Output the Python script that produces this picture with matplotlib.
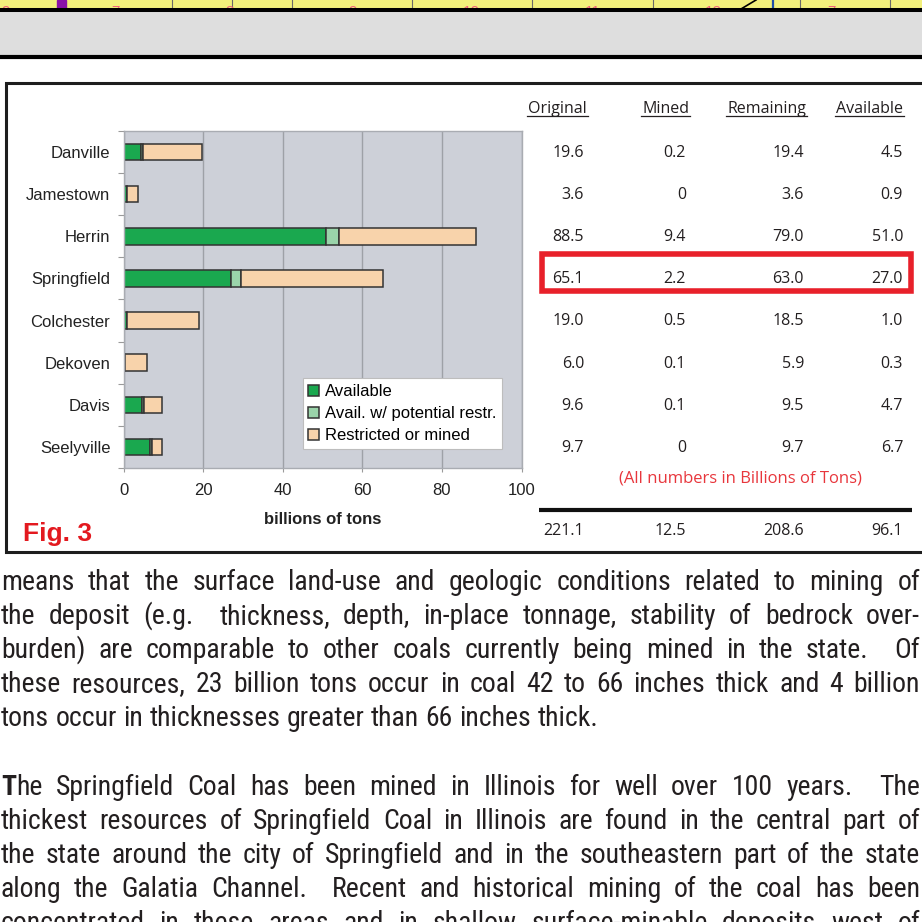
import matplotlib
matplotlib.use("Agg")
import matplotlib.pyplot as plt
import matplotlib.transforms as mtransforms
from matplotlib import font_manager as fm
from matplotlib.font_manager import FontProperties
from matplotlib.patches import Rectangle
import numpy as np

# ---- data (billions of tons) ----
seams = ["Danville", "Jamestown", "Herrin", "Springfield",
         "Colchester", "Dekoven", "Davis", "Seelyville"]
original = [19.6, 3.6, 88.5, 65.1, 19.0, 6.0, 9.6, 9.7]
mined = [0.2, 0, 9.4, 2.2, 0.5, 0.1, 0.1, 0]
remaining = [19.4, 3.6, 79.0, 63.0, 18.5, 5.9, 9.5, 9.7]
available = [4.5, 0.9, 51.0, 27.0, 1.0, 0.3, 4.7, 6.7]
# available but with potential restrictions
potential = [0.3, 0.0, 3.2, 2.6, 0.0, 0.0, 0.5, 0.4]
totals = [221.1, 12.5, 208.6, 96.1]
columns = ["Original", "Mined", "Remaining", "Available"]
series_names = ["Available", "Avail. w/ potential restr.", "Restricted or mined"]
x_ticks = [0, 20, 40, 60, 80, 100]

paragraph_1 = [
    "means that the surface land-use and geologic conditions related to mining of",
    "the deposit (e.g. thickness, depth, in-place tonnage, stability of bedrock over-",
    "burden) are comparable to other coals currently being mined in the state.  Of",
    "these resources, 23 billion tons occur in coal 42 to 66 inches thick and 4 billion",
    "tons occur in thicknesses greater than 66 inches thick.",
]
paragraph_2 = [
    "The Springfield Coal has been mined in Illinois for well over 100 years.  The",
    "thickest resources of Springfield Coal in Illinois are found in the central part of",
    "the state around the city of Springfield and in the southeastern part of the state",
    "along the Galatia Channel.  Recent and historical mining of the coal has been",
    "concentrated in these areas and in shallow surface-minable deposits west of",
]
map_labels = ["9", "7", "8", "9", "10", "11", "12", "7"]

GREEN = "#1aa84f"
LIGHT = "#9ad4aa"
TAN = "#f8d3ab"
EDGE = "#333333"
PLOT_BG = "#cdd0d8"
INK = "#231f20"
RED = "#e8202a"

plt.rcParams["font.family"] = ["Liberation Sans", "DejaVu Sans"]

fig = plt.figure(figsize=(9.22, 9.22), dpi=100)
renderer = fig.canvas.get_renderer()

# page overlay in pixel coordinates (y downwards)
ov = fig.add_axes([0, 0, 1, 1], zorder=0)
ov.set_xlim(0, 922)
ov.set_ylim(922, 0)
ov.axis("off")

# ---- strip of map at the top ----
ov.add_patch(Rectangle((0, 0), 922, 9, color="#f2f07c", zorder=1))
ov.add_patch(Rectangle((57, 0), 9, 9, color="#8a12a8", zorder=2))
for x in [172, 232, 292, 412, 532, 653, 800, 890]:
    ov.plot([x, x], [0, 9], color="#6a6a6a", lw=0.8, zorder=2)
ov.plot([773, 773], [0, 9], color="#1f4fa8", lw=1.6, zorder=2)
ov.plot([741, 756], [9, 0], color="black", lw=1.2, zorder=2)
for x, s in zip([5, 115, 230, 352, 471, 593, 713, 831], map_labels):
    ov.text(x, 4.5, s, color="#f0607a", fontsize=11, ha="center", va="top", zorder=2)
ov.add_patch(Rectangle((0, 10), 922, 47, color="#dedede", zorder=3))
ov.plot([0, 922], [10.3, 10.3], color="black", lw=2.9, zorder=4)
ov.plot([0, 922], [57, 57], color="black", lw=3, zorder=4)

# ---- figure frame ----
ov.plot([935, 6, 6, 935], [83, 83, 551.5, 551.5], color="#1e1e1e", lw=2.2,
        solid_joinstyle="miter")

# ---- bar chart ----
ax = fig.add_axes([123.5 / 922, (922 - 468) / 922, 398 / 922, 337 / 922], zorder=2)
ax.set_facecolor(PLOT_BG)
y = np.arange(len(seams))
avail = np.array(available)
pot = np.array(potential)
restricted = np.array(original) - avail - pot
bar_kw = dict(height=0.39, edgecolor=EDGE, linewidth=1.1)
ax.barh(y, avail, color=GREEN, label=series_names[0], **bar_kw)
ax.barh(y, pot, left=avail, color=LIGHT, label=series_names[1], **bar_kw)
ax.barh(y, restricted, left=avail + pot, color=TAN, label=series_names[2], **bar_kw)

ax.set_xlim(0, 100)
ax.set_ylim(len(seams) - 0.5, -0.5)
ax.set_xticks(x_ticks)
ax.set_yticks(y)
ax.set_yticklabels(seams)
ax.set_yticks(np.arange(-0.5, len(seams), 1), minor=True)
ax.tick_params(axis="y", which="major", length=0, pad=9.5, labelsize=12, labelcolor="#222222")
ax.tick_params(axis="y", which="minor", length=4, color="#9a9a9a", width=0.8)
ax.tick_params(axis="x", length=3, color="#9a9a9a", width=0.8, pad=8, labelsize=12,
               labelcolor="#222222")
ax.grid(axis="x", color="#9ea1a7", lw=1)
ax.set_axisbelow(True)
for side in ["left", "bottom", "right", "top"]:
    ax.spines[side].set_color("#a9acb2")
    ax.spines[side].set_linewidth(1)
ax.set_xlabel("billions of tons", fontsize=12, fontweight="bold", color="#222222",
              labelpad=10)

leg = ax.legend(loc="lower left", bbox_to_anchor=(0.45, 0.056), fontsize=12,
                frameon=True, fancybox=False, framealpha=1, edgecolor="#bdbdbd",
                handlelength=0.65, handleheight=0.65, handletextpad=0.35,
                labelspacing=0.42, borderpad=0.35, borderaxespad=0)
leg.get_frame().set_linewidth(0.8)

ov.text(23, 541, "Fig. 3", color="#e3191f", fontsize=19, fontweight="bold", va="baseline")

# ---- table on the right ----
table_font = ["Open Sans", "DejaVu Sans"]
head_prop = FontProperties(family=table_font, size=11.5)
rows = mtransforms.blended_transform_factory(ov.transData, ax.transData)
col_right = [584, 686, 804, 903]
head_right = [587, 689, 806, 903]


def fmt(v):
    return "0" if v == 0 else f"{v:.1f}"


for name, xr in zip(columns, head_right):
    ov.text(xr, 113, name, fontproperties=head_prop, color=INK, ha="right", va="baseline")
    w = renderer.get_text_width_height_descent(name, head_prop, ismath=False)[0]
    ov.plot([xr - w - 1, xr + 1], [116.5, 116.5], color=INK, lw=0.9)

for values, xr in zip([original, mined, remaining, available], col_right):
    for i, v in enumerate(values):
        ov.text(xr, i + 0.02, fmt(v), transform=rows, fontproperties=head_prop,
                color=INK, ha="right", va="center")

ov.add_patch(Rectangle((542, 2.42), 369, 0.88, transform=rows, fill=False,
                       edgecolor=RED, lw=4.0, joinstyle="miter"))
ov.text(740, 478, "(All numbers in Billions of Tons)", family=table_font, fontsize=12,
        color="#e8363c", ha="center", va="center")
ov.plot([539, 912], [510, 510], color="#111111", lw=3, solid_capstyle="butt")
for v, xr in zip(totals, col_right):
    ov.text(xr, 531, fmt(v), fontproperties=head_prop, color=INK, ha="right", va="center")

# ---- body text, justified ----
ttf = fm.fontManager.ttflist
names = {f.name for f in ttf}


def has_stretch(family, stretches):
    return any(f.name == family and f.stretch in stretches for f in ttf)


if has_stretch("Noto Sans", ("semi-condensed", "condensed")):
    body_family = "Noto Sans"
    body_stretch = "semi-condensed" if has_stretch("Noto Sans", ("semi-condensed",)) else "condensed"
elif "Noto Sans SemiCondensed" in names:
    body_family, body_stretch = "Noto Sans SemiCondensed", "normal"
elif "Roboto Condensed" in names:
    body_family, body_stretch = "Roboto Condensed", "normal"
elif "Liberation Sans Narrow" in names:
    body_family, body_stretch = "Liberation Sans Narrow", "normal"
elif has_stretch("DejaVu Sans", ("condensed",)):
    body_family, body_stretch = "DejaVu Sans", "condensed"
else:
    body_family, body_stretch = "Liberation Sans", "normal"

LEFT, RIGHT = 1, 920
BODY_SIZE = 20
body = FontProperties(family=body_family, stretch=body_stretch, size=BODY_SIZE)


def width(s, prop):
    return renderer.get_text_width_height_descent(s, prop, ismath=False)[0]


natural = max(width(line, body) for line in paragraph_1 + paragraph_2)
if natural > RIGHT - LEFT - 4:
    body.set_size(BODY_SIZE * (RIGHT - LEFT - 4) / natural)
bold = body.copy()
bold.set_weight("bold")


def word_width(word, lead):
    if lead:
        return width(word[0], bold) + width(word[1:], body)
    return width(word, body)


def draw_line(text, yb, justify, lead=False):
    words = text.split()
    ws = [word_width(w, lead and i == 0) for i, w in enumerate(words)]
    weights = [2 if w.endswith(".") else 1 for w in words[:-1]]
    if justify:
        gap = (RIGHT - LEFT - sum(ws)) / sum(weights)
    else:
        gap = width("a a", body) - 2 * width("a", body)
    x = LEFT
    for i, w in enumerate(words):
        if lead and i == 0:
            ov.text(x, yb, w[0], fontproperties=bold, color=INK, va="baseline")
            ov.text(x + width(w[0], bold), yb, w[1:], fontproperties=body, color=INK,
                    va="baseline")
        else:
            ov.text(x, yb, w, fontproperties=body, color=INK, va="baseline")
        if i < len(weights):
            x += ws[i] + gap * weights[i]


for k, line in enumerate(paragraph_1):
    draw_line(line, 590 + 34 * k, justify=k < len(paragraph_1) - 1)
for k, line in enumerate(paragraph_2):
    draw_line(line, 795 + 34 * k, justify=True, lead=(k == 0))

fig.savefig("out.png", dpi=100)
